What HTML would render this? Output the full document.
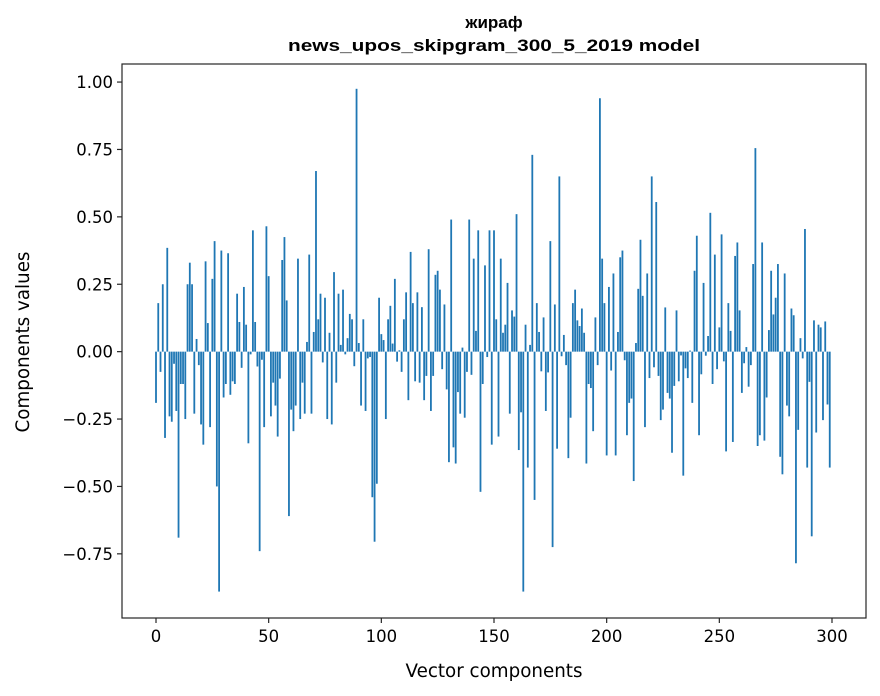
<!DOCTYPE html>
<html><head><meta charset="utf-8"><style>
html,body{margin:0;padding:0;background:#fff;}
svg{display:block;font-family:"DejaVu Sans","Liberation Sans",sans-serif;}
</style></head><body>
<svg id="chart" width="880" height="696" viewBox="0 0 880 696" xmlns="http://www.w3.org/2000/svg">
<rect x="0" y="0" width="880" height="696" fill="#fff"/>
<text x="494" y="28" text-anchor="middle" font-size="17" font-weight="bold" font-family="Liberation Sans, sans-serif">жираф</text>
<text x="494" y="51" text-anchor="middle" font-size="17" font-weight="bold" font-family="Liberation Sans, sans-serif" textLength="412" lengthAdjust="spacingAndGlyphs">news_upos_skipgram_300_5_2019 model</text>
<g id="bars"></g>
<g id="axes"></g>
<text x="494" y="677" text-anchor="middle" font-size="18.3">Vector components</text>
<text transform="translate(29,342) rotate(-90)" text-anchor="middle" font-size="18.3">Components values</text>
</svg>
<script>
const values = [
-0.19,0.18,-0.075,0.25,-0.32,0.385,-0.24,-0.26,-0.045,-0.22,
-0.69,-0.12,-0.12,-0.25,0.25,0.33,0.25,-0.23,0.047,-0.05,
-0.27,-0.345,0.335,0.106,-0.28,0.27,0.41,-0.5,-0.89,0.375,
-0.17,-0.12,0.365,-0.16,-0.11,-0.12,0.215,0.11,-0.06,0.24,
0.10,-0.34,-0.01,0.45,0.11,-0.055,-0.74,-0.03,-0.28,0.465,
0.28,-0.24,-0.115,-0.2,-0.315,-0.1,0.34,0.425,0.19,-0.61,
-0.215,-0.295,-0.2,0.345,-0.25,-0.115,-0.23,0.036,0.36,-0.23,
0.073,0.67,0.12,0.215,-0.04,0.20,-0.25,0.07,-0.27,0.295,
-0.115,0.215,0.025,0.23,-0.01,0.05,0.14,0.12,-0.054,0.975,
0.032,-0.2,0.12,-0.22,-0.025,-0.02,-0.54,-0.705,-0.49,0.20,
0.065,0.043,-0.25,0.12,0.17,0.03,0.27,-0.037,0.005,-0.075,
0.12,0.22,-0.18,0.37,0.18,-0.11,0.22,-0.115,0.165,-0.18,
-0.09,0.38,-0.22,-0.09,0.285,0.30,0.23,-0.065,0.175,-0.14,
-0.41,0.49,-0.355,-0.415,-0.15,-0.23,0.015,-0.245,-0.075,0.49,
-0.086,0.345,0.077,0.45,-0.52,-0.12,0.32,-0.02,0.45,-0.345,
0.45,0.12,-0.315,0.345,0.07,0.10,0.255,-0.23,0.153,0.13,
0.51,-0.365,-0.225,-0.89,0.10,-0.43,0.025,0.73,-0.55,0.18,
0.073,-0.073,0.127,-0.22,-0.077,0.41,-0.725,0.175,-0.36,0.65,
-0.017,0.062,-0.05,-0.395,-0.245,0.18,0.23,0.116,0.095,0.16,
0.07,-0.415,-0.12,-0.135,-0.295,0.127,-0.05,0.94,0.345,0.18,
-0.385,0.24,-0.07,0.29,-0.385,0.073,0.35,0.375,-0.032,-0.31,
-0.19,-0.174,-0.48,0.032,0.233,0.415,0.207,-0.28,0.29,-0.098,
0.65,-0.058,0.555,-0.09,-0.254,-0.215,0.164,-0.153,-0.174,-0.375,
-0.127,0.153,-0.11,-0.014,-0.46,-0.062,-0.098,0.004,-0.19,0.30,
0.43,-0.31,-0.084,0.255,-0.015,0.058,0.515,-0.12,0.36,-0.065,
0.09,0.435,-0.036,-0.37,0.18,0.077,-0.335,0.355,0.405,0.153,
-0.153,-0.043,0.017,-0.13,-0.05,0.325,0.755,-0.35,-0.31,0.405,
-0.33,-0.17,0.08,0.30,0.138,0.20,0.325,-0.39,-0.455,0.29,
-0.20,-0.24,0.16,0.135,-0.785,-0.29,0.05,-0.025,0.455,-0.43,
-0.112,-0.685,0.116,-0.30,0.10,0.09,-0.254,0.112,-0.196,-0.43
];
const xTicks = [0,50,100,150,200,250,300];
const yTicks = [-0.75,-0.5,-0.25,0,0.25,0.5,0.75,1.0];
const yTickLabels = ["−0.75","−0.50","−0.25","0.00","0.25","0.50","0.75","1.00"];

const NS = "http://www.w3.org/2000/svg";
const L = 122, R = 866, T = 64, B = 618;
const xMin = -15.09, xMax = 315.09, yMin = -0.988, yMax = 1.067;
function xs(v){ return L + (v - xMin) / (xMax - xMin) * (R - L); }
function ys(v){ return B - (v - yMin) / (yMax - yMin) * (B - T); }
function mk(tag, attrs){ const e = document.createElementNS(NS, tag); for (const k in attrs) e.setAttribute(k, attrs[k]); return e; }

const barsG = document.getElementById('bars');
values.forEach((v, i) => {
  const x0 = xs(i - 0.4), x1 = xs(i + 0.4);
  const y0 = ys(Math.max(v, 0)), y1 = ys(Math.min(v, 0));
  const r = mk('rect', {x: x0, y: y0, width: x1 - x0, height: Math.max(y1 - y0, 0.3), fill: '#1f77b4'});
  
  
  barsG.appendChild(r);
});

const axG = document.getElementById('axes');
const frame = mk('rect', {x: L, y: T, width: R - L, height: B - T, fill: 'none', stroke: '#262626', 'stroke-width': 1.2});


axG.appendChild(frame);

xTicks.forEach(t => {
  const x = xs(t);
  const ln = mk('line', {x1: x, x2: x, y1: B, y2: B + 5, stroke: '#262626', 'stroke-width': 1.2});
  
  
  axG.appendChild(ln);
  const tx = mk('text', {x: x, y: B + 24, 'text-anchor': 'middle', 'font-size': 16.5, fill: '#000'});
  
  
  tx.textContent = String(t);
  axG.appendChild(tx);
});
yTicks.forEach((t, i) => {
  const y = ys(t);
  const ln = mk('line', {x1: L - 5, x2: L, y1: y, y2: y, stroke: '#262626', 'stroke-width': 1.2});
  
  
  axG.appendChild(ln);
  const tx = mk('text', {x: L - 9, y: y + 6, 'text-anchor': 'end', 'font-size': 16.5, fill: '#000'});
  
  
  tx.textContent = yTickLabels[i];
  axG.appendChild(tx);
});
</script>
</body></html>
